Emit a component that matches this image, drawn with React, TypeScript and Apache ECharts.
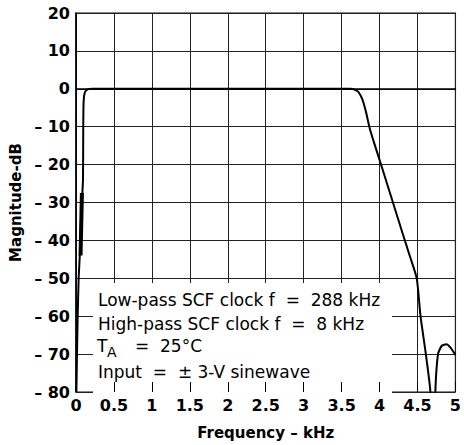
import React, { useEffect, useRef } from "react";
import * as echarts from "echarts";

// Frequency response (kHz, dB)
const freqKHz = [
  0.005, 0.02, 0.035, 0.05, 0.065, 0.08, 0.092, 0.095, 0.098, 0.103, 0.11, 0.12, 0.14, 0.17, 0.22,
  0.5, 1.0, 1.5, 2.0, 2.5, 3.0, 3.5, 3.62, 3.67, 3.72, 3.77, 3.82, 3.87, 3.94, 4.02, 4.1, 4.2,
  4.3, 4.4, 4.49, 4.54, 4.61, 4.67, 4.70, 4.735, 4.77, 4.82, 4.88, 4.94, 5.0,
];
const magnitudeDB = [
  -80, -62, -50, -44, -36, -29, -24, -12, -5, -2.6, -1.5, -0.8, -0.3, -0.05, 0,
  0, 0, 0, 0, 0, 0, 0, 0, -0.2, -0.8, -2.6, -6, -10.4, -15, -20, -25.1, -31.5,
  -37.9, -44.2, -50, -60, -70, -80, -110, -80, -70, -67.8, -67.4, -68.4, -70.2,
];
// the heavy smear on the high-pass skirt
const smearKHz = [0.06, 0.078];
const smearDB = [-44, -27.5];

const xTicks = { min: 0, max: 5, interval: 0.5 };
const yTicks = { min: -80, max: 20, interval: 10 };

const noteLines = [
  "Low-pass SCF clock f  =  288 kHz",
  "High-pass SCF clock f  =  8 kHz",
  "",
  "Input  =  \u00b1 3-V sinewave",
];

const FONT = "'DejaVu Sans', Verdana, sans-serif";

export default function App() {
  const ref = useRef<HTMLDivElement>(null);
  useEffect(() => {
    if (!ref.current) return;
    const chart = echarts.init(ref.current, undefined, { renderer: "svg" });
    const main = freqKHz.map((f, i) => [f, magnitudeDB[i]]);
    const smear = smearKHz.map((f, i) => [f, smearDB[i]]);
    const textStyleBase = { fontFamily: FONT, fontSize: 17, fill: "#000" };
    const noteGraphics: any[] = [];
    const lineY = [300, 324, 346, 372];
    noteLines.forEach((t, i) => {
      if (!t) return;
      noteGraphics.push({
        type: "text",
        z: 20,
        x: 98,
        y: lineY[i],
        style: { ...textStyleBase, text: t, verticalAlign: "middle" },
      });
    });
    noteGraphics.push(
      { type: "text", z: 20, x: 97, y: lineY[2], style: { ...textStyleBase, text: "T", verticalAlign: "middle" } },
      { type: "text", z: 20, x: 107, y: lineY[2] + 6, style: { ...textStyleBase, fontSize: 14, text: "A", verticalAlign: "middle" } },
      { type: "text", z: 20, x: 135, y: lineY[2], style: { ...textStyleBase, text: "=  25\u00b0C", verticalAlign: "middle" } }
    );
    chart.setOption({
      animation: false,
      backgroundColor: "#fff",
      grid: {
        left: 76,
        top: 13,
        width: 386,
        height: 384,
        show: true,
        borderColor: "#111",
        borderWidth: 1.2,
        backgroundColor: "transparent",
      },
      xAxis: [
        {
          type: "value",
          ...xTicks,
          z: 0,
          axisLine: { show: true, lineStyle: { color: "#000", width: 1.5 } },
          axisTick: { show: false },
          splitLine: { show: true, lineStyle: { color: "#222", width: 1 } },
          axisLabel: {
            fontFamily: FONT,
            fontSize: 16,
            fontWeight: "bold",
            color: "#000",
            margin: 5,
            formatter: (v: number) => String(v),
          },
          name: "Frequency \u2013 kHz",
          nameLocation: "middle",
          nameGap: 33,
          nameTextStyle: { fontFamily: FONT, fontSize: 15, fontWeight: "bold", color: "#000" },
        },
        {
          type: "value",
          ...xTicks,
          position: "bottom",
          z: 10,
          axisLine: { show: false },
          axisTick: { show: true, inside: true, length: 10, lineStyle: { color: "#000", width: 1 } },
          splitLine: { show: false },
          axisLabel: { show: false },
        },
      ],
      yAxis: {
        type: "value",
        ...yTicks,
        z: 0,
        axisLine: { show: true, lineStyle: { color: "#000", width: 1.5 } },
        axisTick: { show: false },
        splitLine: { show: true, lineStyle: { color: "#222", width: 1 } },
        axisLabel: {
          fontFamily: FONT,
          fontSize: 16,
          fontWeight: "bold",
          color: "#000",
          margin: 6,
          formatter: (v: number) => (v < 0 ? "\u2013 " + Math.abs(v) : String(v)),
        },
        name: "Magnitude-dB",
        nameLocation: "middle",
        nameRotate: 90,
        nameGap: 52,
        nameTextStyle: { fontFamily: FONT, fontSize: 15, fontWeight: "bold", color: "#000" },
      },
      graphic: [
        {
          type: "rect",
          z: 5,
          shape: { x: 93, y: 283, width: 299, height: 112 },
          style: { fill: "#fff" },
        },
        ...noteGraphics,
      ],
      series: [
        {
          type: "line",
          z: 8,
          data: main,
          showSymbol: false,
          smooth: 0.2,
          clip: true,
          lineStyle: { color: "#000", width: 2 },
        },
        {
          type: "line",
          z: 8,
          data: smear,
          showSymbol: false,
          clip: true,
          lineStyle: { color: "#000", width: 4 },
        },
      ],
    });
    return () => chart.dispose();
  }, []);
  return (
    <div
      ref={ref}
      style={{ position: "fixed", left: 0, top: 0, width: 464, height: 445 }}
    />
  );
}
